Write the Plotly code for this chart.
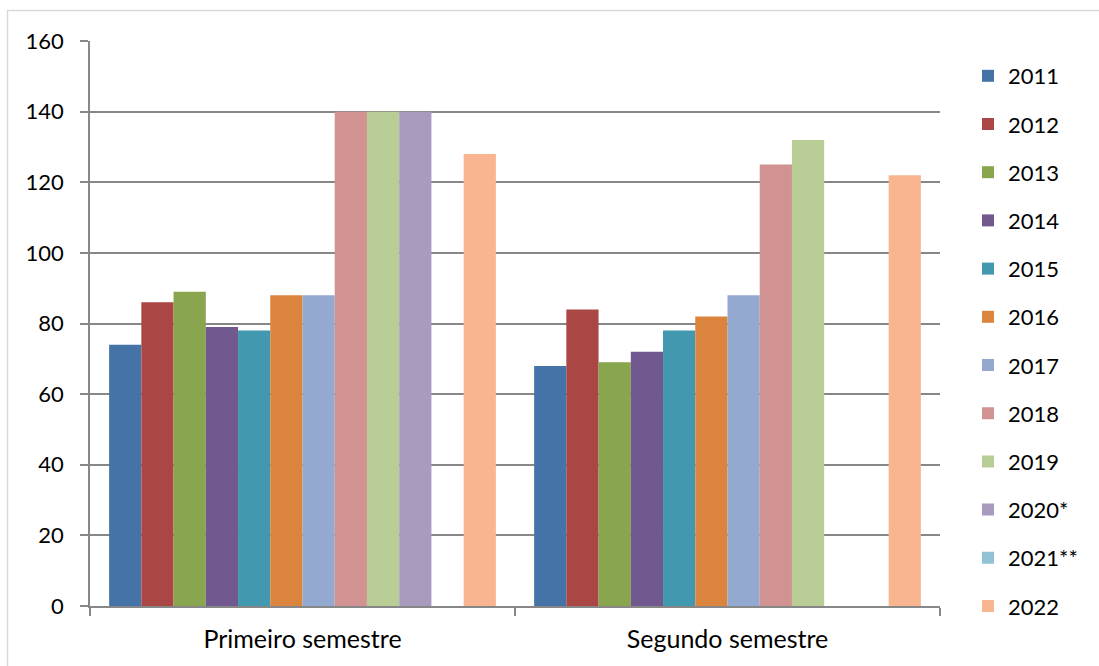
import plotly.graph_objects as go

# Categories and per-year values (None = no bar for that semester)
categories = ["Primeiro semestre", "Segundo semestre"]
years = ["2011", "2012", "2013", "2014", "2015", "2016",
         "2017", "2018", "2019", "2020*", "2021**", "2022"]
primeiro = [74, 86, 89, 79, 78, 88, 88, 140, 140, 140, None, 128]
segundo = [68, 84, 69, 72, 78, 82, 88, 125, 132, None, None, 122]
colors = ["#4572A7", "#AA4643", "#89A54E", "#71588F", "#4198AF", "#DB843D",
          "#93A9CF", "#D19392", "#B9CD96", "#A99BBD", "#92C3D4", "#F9B590"]
y_ticks = [0, 20, 40, 60, 80, 100, 120, 140, 160]

FONT = "Lato"
GRID = "#878787"

W, H = 1099, 666
ML, MR, MT, MB = 90, 159, 41, 60
pw, ph = W - ML - MR, H - MT - MB

def px_x(x):
    return (x - ML) / pw

def px_y(y):
    return (H - MB - y) / ph

# the legend column is split in two stacked legends so it can run the full height
STEP = 48.2
FIRST_TOP = 55

fig = go.Figure()
for i, year in enumerate(years):
    fig.add_trace(go.Bar(
        name=year,
        x=categories,
        y=[primeiro[i], segundo[i]],
        marker=dict(color=colors[i], line=dict(width=0)),
        legendgroup=year,
        legend="legend" if i < 6 else "legend2",
        hoverinfo="x+y+name",
    ))

legend_style = dict(
    x=px_x(968), xanchor="left", yanchor="top",
    font=dict(family=FONT, size=22, color="#000000"),
    tracegroupgap=16.6,
    bgcolor="rgba(0,0,0,0)",
)

fig.update_layout(
    width=W, height=H,
    margin=dict(l=ML, r=MR, t=MT, b=MB),
    paper_bgcolor="white",
    plot_bgcolor="white",
    barmode="group",
    bargap=0.09,
    bargroupgap=0,
    font=dict(family=FONT, size=21, color="#000000"),
    showlegend=True,
    legend=dict(y=px_y(FIRST_TOP), **legend_style),
    legend2=dict(y=px_y(FIRST_TOP + 6 * STEP), **legend_style),
    xaxis=dict(
        type="category",
        showgrid=False,
        showline=True, linecolor=GRID, linewidth=1.5,
        ticks="outside", tickson="boundaries", ticklen=8,
        tickcolor=GRID, tickwidth=1.5,
        ticklabelstandoff=10,
        tickfont=dict(family=FONT, size=25),
    ),
    yaxis=dict(
        range=[0, 160],
        tickvals=y_ticks,
        showgrid=True, gridcolor=GRID, gridwidth=1.5,
        showline=True, linecolor=GRID, linewidth=1.5,
        ticks="outside", ticklen=8, tickcolor=GRID, tickwidth=1.5,
        zeroline=False,
        ticklabelstandoff=12,
        tickfont=dict(family=FONT, size=22),
    ),
    shapes=[dict(
        type="rect", xref="paper", yref="paper",
        x0=px_x(7.5), x1=px_x(W + 5),
        y0=px_y(H + 5), y1=px_y(10.5),
        line=dict(color="#D9D9D9", width=1.5),
        fillcolor="rgba(0,0,0,0)", layer="below",
    )],
)

fig.write_html("out.html")
